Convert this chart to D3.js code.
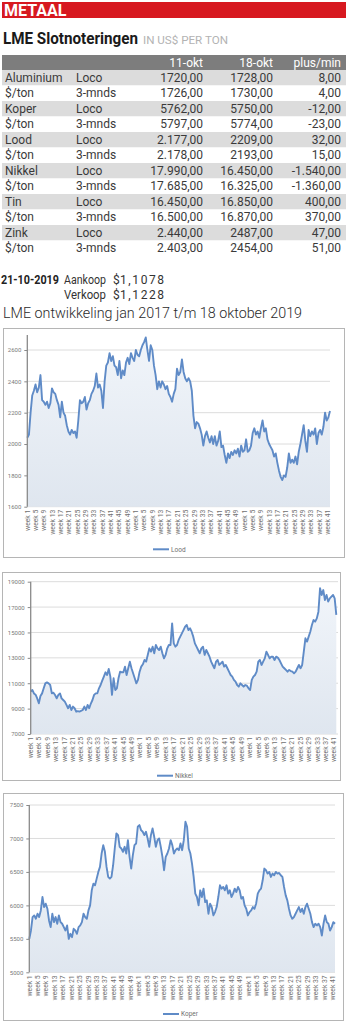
<!DOCTYPE html>
<html><head><meta charset="utf-8">
<script src="https://cdn.jsdelivr.net/npm/d3@7"></script>
<style>
body{margin:0;background:#fff;}
svg{display:block;font-family:Roboto,"DejaVu Sans",sans-serif;}
</style></head><body><svg id="c" width="348" height="1024"></svg>
<script>
// ---- Table: LME slotnoteringen (US$ per ton) ----
const rowLabels = ["Aluminium","$/ton","Koper","$/ton","Lood","$/ton","Nikkel","$/ton","Tin","$/ton","Zink","$/ton"];
const rowTypes  = ["Loco","3-mnds","Loco","3-mnds","Loco","3-mnds","Loco","3-mnds","Loco","3-mnds","Loco","3-mnds"];
const okt11     = ["1720,00","1726,00","5762,00","5797,00","2.177,00","2.178,00","17.990,00","17.685,00","16.450,00","16.500,00","2.440,00","2.403,00"];
const okt18     = ["1728,00","1730,00","5750,00","5774,00","2209,00","2193,00","16.450,00","16.325,00","16.850,00","16.870,00","2487,00","2454,00"];
const plusMin   = ["8,00","4,00","-12,00","-23,00","32,00","15,00","-1.540,00","-1.360,00","400,00","370,00","47,00","51,00"];
const headers   = ["11-okt","18-okt","plus/min"];

// ---- Week tick labels (jan 2017 t/m okt 2019) ----
const weekNumbers = [1,5,9,13,17,21,25,29,33,37,41,45,49, 1,5,9,13,17,21,25,29,33,37,41,45,49, 1,5,9,13,17,21,25,29,33,37,41];
const weekLabels = weekNumbers.map(w => "week " + w);
const totalWeeks = 146; // 52 + 52 + 42

// ---- Price series (evenly spaced over the period) ----
const loodValues = [2040,2060,2200,2310,2340,2380,2330,2360,2440,2280,2270,2250,2270,2230,2260,2355,2330,2320,2280,2250,
2170,2270,2200,2180,2120,2080,2060,2090,2070,2080,2040,2150,2280,2260,2270,2300,2220,2260,2280,2320,
2340,2370,2450,2360,2380,2340,2230,2400,2500,2520,2580,2530,2560,2500,2490,2440,2530,2420,2470,2440,
2520,2550,2510,2580,2550,2530,2600,2570,2560,2600,2630,2650,2680,2600,2530,2630,2600,2500,2440,2350,
2400,2360,2400,2380,2350,2370,2320,2300,2270,2320,2350,2480,2440,2460,2540,2460,2420,2400,2420,2400,
2340,2180,2100,2140,2130,2100,2060,1990,2050,2080,2040,2010,2050,2000,2050,1990,2020,2080,1980,1990,
1930,1880,1940,1910,1950,1930,1960,1940,1970,1920,1990,1950,1960,2030,1950,1960,1990,2070,2100,2060,
2080,2040,2100,2150,2080,2100,2030,2000,1980,1960,1920,1940,1880,1830,1790,1770,1800,1790,1850,1940,
1880,1900,1880,1920,1870,1950,2000,2060,2120,2020,1950,2090,2050,2080,2060,2100,2000,2070,2090,2060,
2110,2200,2150,2170,2210];

const nikkelValues = [10340,10470,10200,10100,9800,9420,10000,10200,10600,10990,11070,10990,10860,10210,10250,10070,9810,10080,10200,9810,
9680,9550,9290,9030,9290,8890,9160,9030,8760,8800,8760,8830,8890,9160,8890,9290,9030,9400,9680,10080,
10200,10210,10600,10860,11200,11520,11860,11650,12120,11520,10080,11390,10470,10600,11390,11910,11860,11860,12300,11650,
12180,12700,12180,11780,11390,10990,11260,11910,12310,12490,12830,12700,13230,13750,13490,13880,13360,14010,13750,13620,
13880,13360,12960,13230,13750,14010,14010,15720,14140,13880,14010,14410,14670,14930,15190,15460,15590,15190,15330,15060,
14670,14140,13880,13620,13360,13750,13880,13230,13620,13360,13090,12700,12440,12180,12700,12830,12440,12570,12700,12310,
12440,12180,11910,11650,11520,11260,11130,10860,10730,10990,10860,10730,10860,10810,10600,10470,11260,11520,11650,11910,
12700,12830,12440,12700,12960,13490,13230,12960,13090,13090,12830,13090,13020,12830,12570,12310,12180,12050,11910,12050,
11960,11910,11780,11910,12180,12440,12180,12440,13490,14540,14280,14670,15060,15590,15980,15850,16110,16640,18480,17950,
18340,17560,17950,17430,17690,17820,17950,17690,16380];

const koperValues = [5500,5625,5825,5850,5800,5875,5825,5925,6125,5975,6025,5950,5775,5675,5875,5750,5825,5725,5850,5750,
5725,5675,5625,5700,5500,5575,5525,5650,5625,5575,5675,5700,5750,5875,5825,5800,5925,6000,6225,6325,
6300,6400,6500,6575,6775,6900,6800,6575,6425,6400,6425,6600,6850,7075,7050,6875,6850,6800,6875,6775,
6975,6725,6550,6750,6900,6925,7175,7200,7125,7100,7050,7100,7000,6875,7050,7150,7025,6875,6975,7000,
6875,6725,6525,6725,6775,6850,6975,6900,6775,6825,6850,6825,6925,6825,6975,7250,7175,6850,6775,6625,
6425,6175,6125,6000,6225,6125,6250,6050,6075,5875,6025,5975,5850,5900,5975,6125,6300,6250,6275,6225,
6300,6175,6225,6125,6175,6250,6200,6275,6225,6100,6125,6000,5950,5850,5900,5925,5975,5950,6025,6175,
6225,6250,6375,6550,6525,6475,6500,6425,6475,6450,6500,6475,6485,6450,6425,6275,6150,6075,5950,5850,
5800,5825,5875,5925,5975,5900,5950,5875,5975,6025,5950,5875,5750,5675,5725,5700,5725,5675,5550,5725,
5850,5750,5725,5625,5675,5750,5725];

const loodTicks   = [1600,1800,2000,2200,2400,2600];
const nikkelTicks = [7000,9000,11000,13000,15000,17000,19000];
const koperTicks  = [5000,5500,6000,6500,7000,7500];

const svg = d3.select("#c");
const defs = svg.append("defs");
const grad = defs.append("linearGradient").attr("id","areaFill").attr("x1",0).attr("y1",0).attr("x2",0).attr("y2",1);
grad.append("stop").attr("offset","0%").attr("stop-color","#f1f5fa");
grad.append("stop").attr("offset","100%").attr("stop-color","#dfe6ef");

// ---- Header ----
svg.append("rect").attr("x",2).attr("y",2).attr("width",344).attr("height",16).attr("fill","#d71920");
svg.append("text").attr("x",4).attr("y",16).attr("fill","#fff").attr("font-size",16).attr("font-weight",700).text("METAAL");

svg.append("text").attr("x",3).attr("y",44).attr("fill","#1a1a1a").attr("font-size",16.5).attr("font-weight",700)
  .attr("textLength",135).attr("lengthAdjust","spacingAndGlyphs").text("LME Slotnoteringen");
svg.append("text").attr("x",143).attr("y",44).attr("fill","#b3b3b3").attr("font-size",11)
  .attr("textLength",85).attr("lengthAdjust","spacingAndGlyphs").text("IN US$ PER TON");

// ---- Table ----
const tableTop = 55, headH = 15, rowH = 15.5;
svg.append("rect").attr("x",2).attr("y",tableTop).attr("width",344).attr("height",headH).attr("fill","#7d7d7d");
const colRight = [203, 273, 341];
headers.forEach((h,i)=>{
  svg.append("text").attr("x",colRight[i]).attr("y",tableTop+11.5).attr("text-anchor","end")
    .attr("fill","#fff").attr("font-size",12).text(h);
});
const rowScale = d3.scaleBand().domain(d3.range(rowLabels.length))
  .range([tableTop+headH, tableTop+headH+rowH*rowLabels.length]).padding(0);
const rows = svg.append("g").selectAll("g").data(rowLabels).join("g")
  .attr("transform",(d,i)=>`translate(0,${rowScale(i)})`);
rows.append("rect").attr("x",2).attr("width",344).attr("height",rowScale.bandwidth())
  .attr("fill",(d,i)=> i%2===0 ? "#dcdcdc" : "#ffffff");
const cellStyle = sel => sel.attr("y",11.6).attr("font-size",12).attr("fill","#3a3a3a");
rows.append("text").attr("x",5).text(d=>d).call(cellStyle);
rows.append("text").attr("x",76).text((d,i)=>rowTypes[i]).call(cellStyle);
rows.append("text").attr("x",colRight[0]).attr("text-anchor","end").text((d,i)=>okt11[i]).call(cellStyle);
rows.append("text").attr("x",colRight[1]).attr("text-anchor","end").text((d,i)=>okt18[i]).call(cellStyle);
rows.append("text").attr("x",colRight[2]).attr("text-anchor","end").text((d,i)=>plusMin[i]).call(cellStyle);

// ---- Exchange rate ----
svg.append("text").attr("x",1).attr("y",284).attr("font-size",12).attr("font-weight",700).attr("fill","#222")
  .attr("textLength",58).attr("lengthAdjust","spacingAndGlyphs").text("21-10-2019");
[["Aankoop","1,1078",284],["Verkoop","1,1228",299]].forEach(([lab,val,y])=>{
  svg.append("text").attr("x",106).attr("y",y).attr("text-anchor","end").attr("font-size",12).attr("fill","#333")
    .attr("textLength",42).attr("lengthAdjust","spacingAndGlyphs").text(lab);
  svg.append("text").attr("x",113).attr("y",y).attr("font-size",12).attr("fill","#333").text("$");
  svg.append("text").attr("x",120).attr("y",y).attr("font-size",12).attr("fill","#333").attr("letter-spacing",1.6).text(val);
});

svg.append("text").attr("x",3).attr("y",318).attr("font-size",15).attr("font-weight",300).attr("fill","#2a2a2a")
  .attr("textLength",299).attr("lengthAdjust","spacingAndGlyphs").text("LME ontwikkeling jan 2017 t/m 18 oktober 2019");

// ---- Line charts ----
function lineChart(cfg){
  const g = svg.append("g");
  g.append("rect").attr("x",cfg.box[0]+0.5).attr("y",cfg.box[1]+0.5)
    .attr("width",cfg.box[2]-cfg.box[0]).attr("height",cfg.box[3]-cfg.box[1])
    .attr("fill","#fff").attr("stroke","#b5b5b5").attr("stroke-width",1);

  const y = d3.scaleLinear().domain(cfg.domain).range([cfg.bottom, cfg.top]);
  const x = d3.scaleLinear().domain([0, cfg.values.length-1]).range([cfg.left, cfg.right]);
  const wx = d3.scaleLinear().domain([0, totalWeeks-1]).range([cfg.left, cfg.right]);

  // gridlines
  g.append("g").selectAll("line").data(cfg.ticks).join("line")
    .attr("x1",cfg.left).attr("x2",cfg.gridRight).attr("y1",d=>y(d)).attr("y2",d=>y(d))
    .attr("stroke","#dcdcdc").attr("stroke-width",1);

  // area + line
  g.append("path").datum(cfg.values)
    .attr("d", d3.area().x((d,i)=>x(i)).y0(cfg.bottom).y1(d=>y(d)))
    .attr("fill","url(#areaFill)");
  g.append("path").datum(cfg.values)
    .attr("d", d3.line().x((d,i)=>x(i)).y(d=>y(d)))
    .attr("fill","none").attr("stroke","#5f8bc7").attr("stroke-width",1.9).attr("stroke-linejoin","round");

  // y axis
  const ax = g.append("g").attr("transform",`translate(${cfg.left},0)`)
    .call(d3.axisLeft(y).tickValues(cfg.ticks).tickSize(3).tickPadding(3).tickFormat(d3.format("d")));
  ax.select(".domain").attr("d",`M0,${cfg.axisTop}V${cfg.bottom}`).attr("stroke","#8a8a8a").attr("stroke-width",1.3);
  ax.selectAll(".tick line").attr("stroke","#8a8a8a");
  ax.selectAll(".tick text").attr("fill","#7a7a7a").attr("font-size",6).attr("font-family","Roboto,sans-serif");

  // week labels
  const lab = d3.scalePoint().domain(d3.range(weekLabels.length)).range([wx(0), wx(144)]);
  g.append("g").selectAll("text").data(weekLabels).join("text")
    .attr("transform",(d,i)=>`translate(${lab(i)+2.2},${cfg.bottom+3}) rotate(-90)`)
    .attr("text-anchor","end").attr("font-size",6.8).attr("fill","#6f6f6f").text(d=>d);

  // legend
  g.append("line").attr("x1",cfg.legend[0]).attr("x2",cfg.legend[0]+16).attr("y1",cfg.legend[1]).attr("y2",cfg.legend[1])
    .attr("stroke","#5f8bc7").attr("stroke-width",2);
  g.append("text").attr("x",cfg.legend[0]+18).attr("y",cfg.legend[1]+2.2).attr("font-size",6.5).attr("fill","#6f6f6f").text(cfg.name);
}

lineChart({name:"Lood", values:loodValues, ticks:loodTicks, domain:[1600,2600],
  box:[3,328,344,557], left:27.3, right:330, gridRight:330, top:350, bottom:506.7, axisTop:335, legend:[153,549.3]});
lineChart({name:"Nikkel", values:nikkelValues, ticks:nikkelTicks, domain:[7000,19000],
  box:[2,572,340,780], left:30.7, right:336.3, gridRight:338, top:581.7, bottom:734, axisTop:581.7, legend:[157,775.7]});
lineChart({name:"Koper", values:koperValues, ticks:koperTicks, domain:[5000,7500],
  box:[3,793,343,1020], left:29.3, right:335, gridRight:335, top:805, bottom:972.3, axisTop:805, legend:[163,1014]});
</script></body></html>
